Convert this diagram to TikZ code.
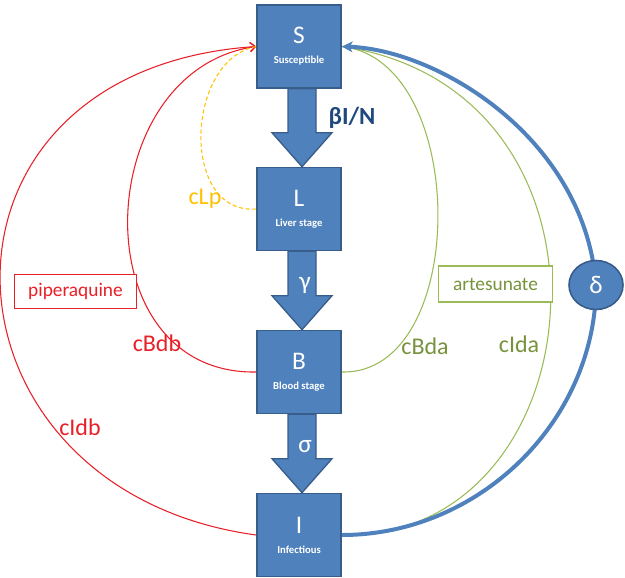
\documentclass[tikz,border=0pt]{standalone}
\usepackage{fontspec}
\setmainfont{Carlito}
\usetikzlibrary{arrows.meta,calc,shapes.geometric}
\definecolor{boxfill}{HTML}{4F81BD}
\definecolor{boxline}{HTML}{385D8A}
\definecolor{redc}{RGB}{232,32,40}
\definecolor{greenl}{HTML}{9BBB59}
\definecolor{greent}{HTML}{77933C}
\definecolor{yellowc}{HTML}{FFC000}
\definecolor{navy}{HTML}{1F497D}
\newcommand\blockarrow[2]{%
  \draw[blockarr] let \p1=(#1.south), \p2=(#2.north) in
    (\x1-8.25pt,\y1) -- (\x1+12.75pt,\y1) -- (\x1+12.75pt,\y2+25.5pt) --
    (\x1+24.75pt,\y2+25.5pt) -- (\x1+2.25pt,\y2) -- (\x1-20.25pt,\y2+25.5pt) --
    (\x1-8.25pt,\y2+25.5pt) -- cycle;}
\newcommand\stagetext[2]{{\fontsize{19}{19}\selectfont #1}\\[3pt]{\fontsize{8}{8}\selectfont\bfseries #2}}
\begin{document}
\begin{tikzpicture}[x=0.75pt,y=-0.75pt,
  stage/.style={rectangle, fill=boxfill, draw=boxline, line width=1.2pt,
    minimum width=63pt, minimum height=62.25pt, inner sep=0pt, text=white, align=center},
  blockarr/.style={fill=boxfill, draw=boxline, line width=1pt},
  redlink/.style={draw=redc, line width=0.8pt},
  greenlink/.style={draw=greenl, line width=0.8pt},
  yellowlink/.style={draw=yellowc, line width=0.8pt, dash pattern=on 3pt off 2pt},
  bluelink/.style={draw=boxfill, line width=3pt},
  rate/.style={font=\fontsize{18}{18}\selectfont},
  drug/.style={rectangle, line width=0.8pt, inner sep=0pt, font=\fontsize{14.5}{15}\selectfont},
  big/.style={font=\fontsize{19}{19}\selectfont, text=white}
]
\useasboundingbox (0,0) rectangle (625,578);
\node[stage] (S) at (299,46.5) {\stagetext{S}{Susceptible}};
\node[stage] (L) at (299,209) {\stagetext{L}{Liver stage}};
\node[stage] (B) at (299,372) {\stagetext{B}{Blood stage}};
\node[stage] (I) at (299,535) {\stagetext{I}{Infectious}};
\coordinate (dpos) at (596,285);
% curved links
\draw[redlink, -{Straight Barb[length=4pt,width=7pt]}] (I.west) .. controls (-75,490) and (-95,70) .. (S.west);
\draw[redlink, -{Straight Barb[length=4pt,width=7pt]}] (B.west) .. controls (80,375) and (90,70) .. (S.west);
\draw[yellowlink] (L.west) .. controls (180,215) and (185,60) .. (S.west);
\draw[greenlink] (B.east) .. controls (470,375) and (470,60) .. (S.east);
\draw[greenlink] (I.east) .. controls (600,540) and (640,90) .. (S.east);
\draw[bluelink, -{Stealth[length=8pt,width=8pt,inset=2pt]}] (I.east) .. controls (480,535) and (596,420) .. (dpos) .. controls (585,140) and (440,50) .. (S.east);
\node[ellipse, fill=boxfill, draw=boxline, line width=1.2pt, minimum width=40.5pt, minimum height=36.75pt, inner sep=0pt, big] (D) at (dpos) {δ};
% block arrows
\blockarrow{S}{L}
\blockarrow{L}{B}
\blockarrow{B}{I}
% redraw boxes on top
\node[stage] at (S) {\stagetext{S}{Susceptible}};
\node[stage] at (L) {\stagetext{L}{Liver stage}};
\node[stage] at (B) {\stagetext{B}{Blood stage}};
\node[stage] at (I) {\stagetext{I}{Infectious}};
% labels
\node[font=\fontsize{18.5}{19}\selectfont\bfseries, text=navy] (beta) at (352,118) {βI/N};
\node[big] (gamma) at (305,285) {γ};
\node[big] (sigma) at (305,447) {σ};
\node[rate, text=yellowc] (cLp) at (205,199) {cLp};
\node[rate, text=redc] (cBdb) at (157,343) {cBdb};
\node[rate, text=redc] (cIdb) at (80,427) {cIdb};
\node[rate, text=greent] (cBda) at (425,346) {cBda};
\node[rate, text=greent] (cIda) at (519,344) {cIda};
\node[drug, draw=redc, text=redc, fill=white, minimum width=92pt, minimum height=26pt] (pip) at (75.5,291.5) {piperaquine};
\node[drug, draw=greenl, text=greent, fill=white, minimum width=86pt, minimum height=27pt] (art) at (495.5,284) {artesunate};
\end{tikzpicture}
\end{document}
